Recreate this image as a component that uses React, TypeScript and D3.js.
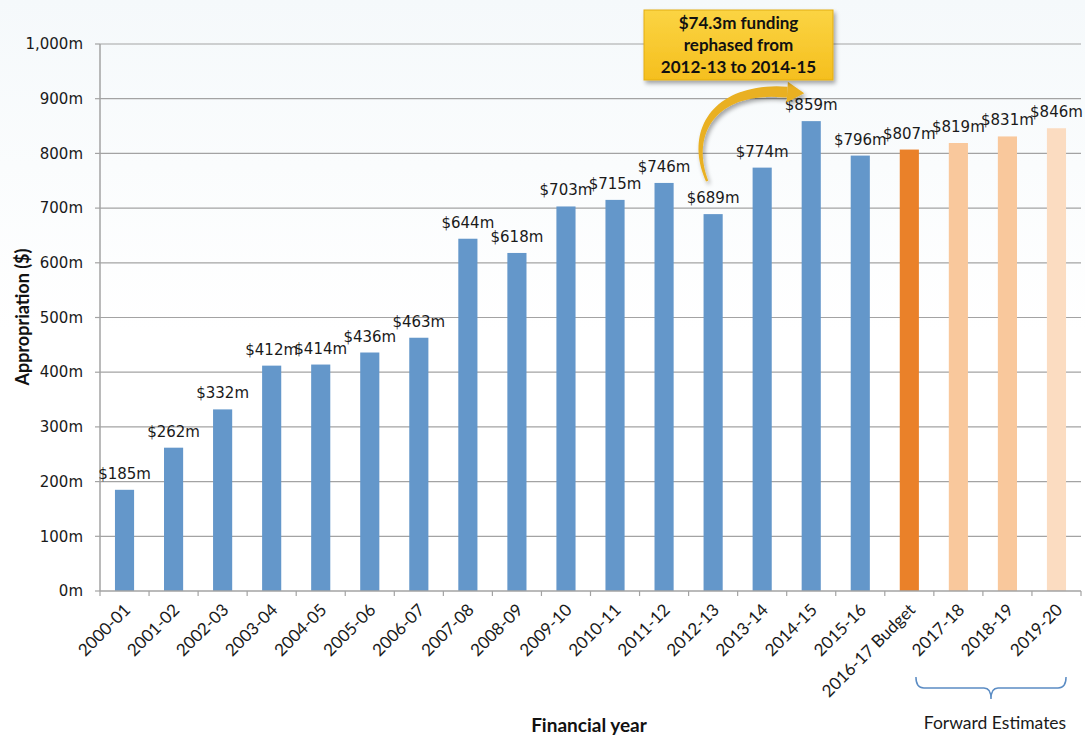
import React from "react";
import * as d3 from "d3";

const categories = [
  "2000-01", "2001-02", "2002-03", "2003-04", "2004-05", "2005-06", "2006-07",
  "2007-08", "2008-09", "2009-10", "2010-11", "2011-12", "2012-13", "2013-14",
  "2014-15", "2015-16", "2016-17 Budget", "2017-18", "2018-19", "2019-20",
];
const values = [185, 262, 332, 412, 414, 436, 463, 644, 618, 703, 715, 746, 689, 774, 859, 796, 807, 819, 831, 846];
const kinds = [
  "actual", "actual", "actual", "actual", "actual", "actual", "actual", "actual", "actual", "actual",
  "actual", "actual", "actual", "actual", "actual", "actual", "budget", "forward", "forward", "forward2",
];
const yTicks = [0, 100, 200, 300, 400, 500, 600, 700, 800, 900, 1000];
const annotationLines = ["$74.3m funding", "rephased from", "2012-13 to 2014-15"];
const forwardLabel = "Forward Estimates";
const forwardCats = ["2017-18", "2019-20"];
const rephaseFrom = "2012-13";
const rephaseTo = "2014-15";

const W = 1085;
const H = 737;
const colorOf: Record<string, string> = {
  actual: "#6497ca",
  budget: "#ea8129",
  forward: "#f9c89c",
  forward2: "#fbdcc1",
};

export default function App() {
  const x = d3.scaleBand<string>().domain(categories).range([100, 1081]).paddingInner(0.61).paddingOuter(0.305);
  const y = d3.scaleLinear().domain([0, 1000]).range([591, 44]);
  const step = x.step();
  const x0 = 100;
  const x1 = 1081;
  const bw = x.bandwidth();
  const cx = (c: string) => (x(c) as number) + bw / 2;
  const fmt = d3.format(",");

  // arrow path (tapered)
  const fromIdx = categories.indexOf(rephaseFrom);
  const toIdx = categories.indexOf(rephaseTo);
  const sx = cx(rephaseFrom) - 6;
  const sy = y(values[fromIdx]) - 33;
  const ex = cx(rephaseTo) - 24;
  const ey = y(values[toIdx]) - 29;
  const p0 = [sx, sy];
  const p1 = [sx - 20, sy - 48];
  const p2 = [sx + 6, ey - 6];
  const p3 = [ex, ey];
  const bez = (t: number) => {
    const u = 1 - t;
    return [
      u * u * u * p0[0] + 3 * u * u * t * p1[0] + 3 * u * t * t * p2[0] + t * t * t * p3[0],
      u * u * u * p0[1] + 3 * u * u * t * p1[1] + 3 * u * t * t * p2[1] + t * t * t * p3[1],
    ];
  };
  const N = 40;
  const left: number[][] = [];
  const right: number[][] = [];
  for (let i = 0; i <= N; i++) {
    const t = i / N;
    const a = bez(Math.max(0, t - 0.01));
    const b = bez(Math.min(1, t + 0.01));
    let dx = b[0] - a[0];
    let dy = b[1] - a[1];
    const len = Math.hypot(dx, dy) || 1;
    dx /= len;
    dy /= len;
    const p = bez(t);
    const hw = 1.2 + 4.3 * t;
    left.push([p[0] - dy * hw, p[1] + dx * hw]);
    right.push([p[0] + dy * hw, p[1] - dx * hw]);
  }
  const body = "M" + left.map((p) => p.join(",")).join("L") + "L" + right.reverse().map((p) => p.join(",")).join("L") + "Z";
  const eA = bez(0.97);
  let tdx = p3[0] - eA[0];
  let tdy = p3[1] - eA[1];
  const tl = Math.hypot(tdx, tdy);
  tdx /= tl;
  tdy /= tl;
  const headLen = 17;
  const headHW = 10.5;
  const tip = [p3[0] + tdx * headLen, p3[1] + tdy * headLen];
  const hb1 = [p3[0] - tdy * headHW, p3[1] + tdx * headHW];
  const hb2 = [p3[0] + tdy * headHW, p3[1] - tdx * headHW];
  const head = `M${hb1.join(",")}L${tip.join(",")}L${hb2.join(",")}Z`;

  // bracket
  const bl = (x(forwardCats[0]) as number) - step * 0.67;
  const br = (x(forwardCats[1]) as number) + bw;
  const bm = (bl + br) / 2;
  const bt = 677;
  const bb = 688;
  const bracket = `M${bl},${bt} Q${bl},${bb} ${bl + 8},${bb} L${bm - 7},${bb} Q${bm},${bb} ${bm},${bb + 11} Q${bm},${bb} ${bm + 7},${bb} L${br - 8},${bb} Q${br},${bb} ${br},${bt}`;

  const boxX = 644;
  const boxY = 10;
  const boxW = 189;
  const boxH = 70;

  return (
    <svg width={W} height={H} style={{ position: "absolute", left: 0, top: 0 }} xmlns="http://www.w3.org/2000/svg">
      <defs>
        <linearGradient id="bg" x1="0" y1="0" x2="0" y2="1">
          <stop offset="0" stopColor="#f5f9fb" />
          <stop offset="0.45" stopColor="#ffffff" />
          <stop offset="1" stopColor="#ffffff" />
        </linearGradient>
        <linearGradient id="gold" x1="0" y1="0" x2="0" y2="1">
          <stop offset="0" stopColor="#fbd443" />
          <stop offset="1" stopColor="#f5bf1e" />
        </linearGradient>
        <filter id="shadow" x="-10%" y="-10%" width="130%" height="140%">
          <feDropShadow dx="2" dy="3" stdDeviation="2" floodColor="#000" floodOpacity="0.35" />
        </filter>
      </defs>
      <rect x={0} y={0} width={W} height={H} fill="url(#bg)" />

      {/* gridlines */}
      {yTicks.filter((t) => t > 0).map((t) => (
        <line key={"g" + t} x1={x0} x2={x1} y1={y(t)} y2={y(t)} stroke="#a3a3a3" strokeWidth={1.2} />
      ))}
      {/* y axis */}
      <line x1={x0} x2={x0} y1={y(1000)} y2={y(0)} stroke="#a3a3a3" strokeWidth={1.5} />
      {yTicks.map((t) => (
        <g key={"yt" + t}>
          <line x1={x0 - 5} x2={x0} y1={y(t)} y2={y(t)} stroke="#a3a3a3" strokeWidth={1.2} />
          <text x={83} y={y(t)} dy="0.35em" textAnchor="end" fontFamily="DejaVu Sans" fontSize={15} fill="#1a1a1a">
            {fmt(t) + "m"}
          </text>
        </g>
      ))}

      {/* bars */}
      {categories.map((c, i) => (
        <rect key={"b" + c} x={x(c)} y={y(values[i])} width={bw} height={y(0) - y(values[i])} fill={colorOf[kinds[i]]} />
      ))}
      {/* value labels */}
      {categories.map((c, i) => (
        <text key={"v" + c} x={cx(c)} y={y(values[i]) - 11} textAnchor="middle" fontFamily="DejaVu Sans" fontSize={15} fill="#1a1a1a">
          {"$" + values[i] + "m"}
        </text>
      ))}

      {/* x axis */}
      <line x1={x0} x2={x1} y1={y(0)} y2={y(0)} stroke="#a3a3a3" strokeWidth={1.5} />
      {d3.range(categories.length + 1).map((i) => (
        <line key={"xt" + i} x1={x0 + i * step} x2={x0 + i * step} y1={y(0)} y2={y(0) + 5} stroke="#a3a3a3" strokeWidth={1.2} />
      ))}
      {categories.map((c) => (
        <text
          key={"xl" + c}
          transform={`translate(${cx(c) + 7},${y(0) + 20}) rotate(-45)`}
          textAnchor="end"
          fontFamily="Lato"
          fontSize={17}
          fill="#1a1a1a"
        >
          {c}
        </text>
      ))}

      {/* axis titles */}
      <text transform={`translate(29,317) rotate(-90)`} textAnchor="middle" fontFamily="Lato" fontWeight="bold" fontSize={18} fill="#111">
        Appropriation ($)
      </text>
      <text x={589} y={732} textAnchor="middle" fontFamily="Lato" fontWeight="bold" fontSize={19} fill="#111">
        Financial year
      </text>

      {/* bracket */}
      <path d={bracket} fill="none" stroke="#5b8cc4" strokeWidth={1.5} />
      <text x={bm + 4} y={729} textAnchor="middle" fontFamily="Lato" fontSize={17.5} fill="#1a1a1a">
        {forwardLabel}
      </text>

      {/* arrow */}
      <g filter="url(#shadow)">
        <path d={body} fill="#e9b021" />
        <path d={head} fill="#e9b021" />
      </g>

      {/* annotation box */}
      <rect x={boxX} y={boxY} width={boxW} height={boxH} fill="url(#gold)" stroke="#e3ad12" strokeWidth={1} filter="url(#shadow)" />
      {annotationLines.map((l, i) => (
        <text key={"an" + i} x={boxX + boxW / 2} y={boxY + 19 + i * 22} textAnchor="middle" fontFamily="Lato" fontWeight="bold" fontSize={17} fill="#111">
          {l}
        </text>
      ))}
    </svg>
  );
}
